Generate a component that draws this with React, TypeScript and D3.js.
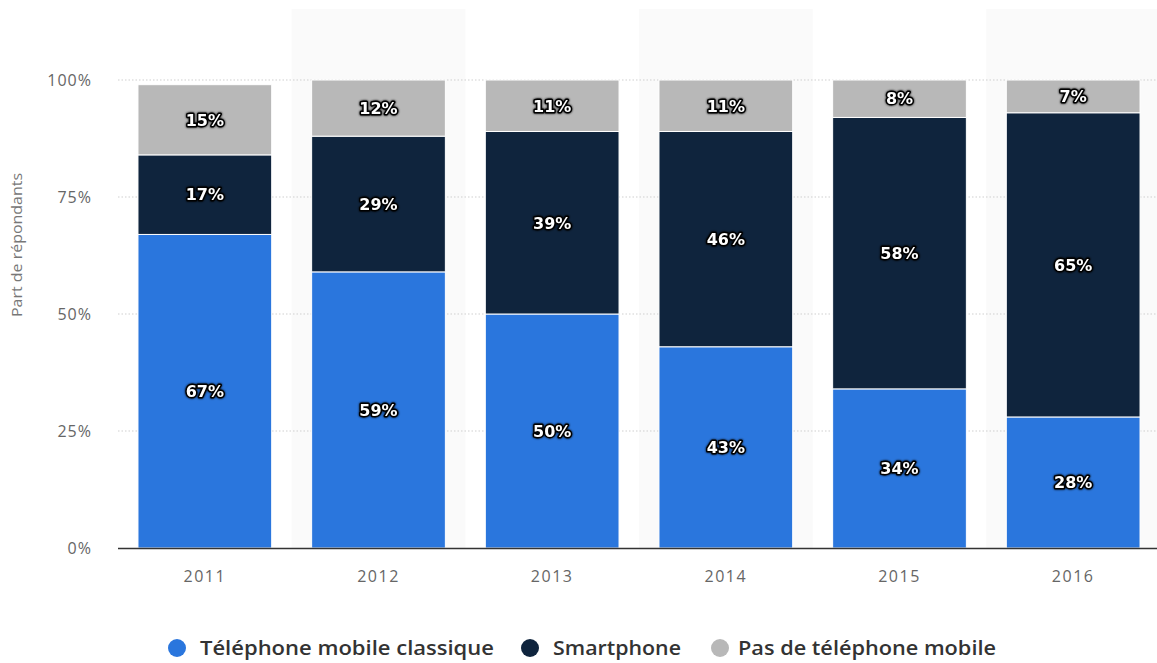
import React from "react";
import * as d3 from "d3";

const years = ["2011", "2012", "2013", "2014", "2015", "2016"];
const classique = [67, 59, 50, 43, 34, 28];
const smartphone = [17, 29, 39, 46, 58, 65];
const aucun = [15, 12, 11, 11, 8, 7];
const yTicks = [0, 25, 50, 75, 100];
const seriesNames = ["Téléphone mobile classique", "Smartphone", "Pas de téléphone mobile"];
const colors = ["#2a76dd", "#0f243d", "#b8b8b8"];

const W = 1157;
const H = 663;

export default function App() {
  const x = d3.scaleBand<string>().domain(years).range([118, 1160]).paddingInner(0.23).paddingOuter(0.115);
  const xOuter = d3.scaleBand<string>().domain(years).range([118, 1160]);
  const y = d3.scaleLinear().domain([0, 100]).range([548, 80]);
  const series = [classique, smartphone, aucun];
  const font = "'Open Sans', sans-serif";
  const labelFont = "'DejaVu Sans', sans-serif";

  return (
    <svg width={W} height={H} style={{ position: "absolute", left: 0, top: 0 }}>
      <defs>
        <filter id="sh" x="-30%" y="-50%" width="160%" height="200%">
          <feGaussianBlur in="SourceAlpha" stdDeviation="1" result="b" />
          <feFlood floodColor="#000" />
          <feComposite in2="b" operator="in" />
          <feMerge>
            <feMergeNode />
            <feMergeNode in="SourceGraphic" />
          </feMerge>
        </filter>
      </defs>
      <rect width={W} height={H} fill="#fff" />
      {years.map((yr, i) =>
        i % 2 === 1 ? (
          <rect key={"bg" + yr} x={xOuter(yr)!} y={9} width={xOuter.bandwidth()} height={548 - 9} fill="#fafafa" />
        ) : null
      )}
      {yTicks.filter((t) => t > 0).map((t) => (
        <line key={"g" + t} x1={118} x2={W} y1={y(t)} y2={y(t)} stroke="#cfcfcf" strokeDasharray="1.5,2" />
      ))}
      {years.map((yr, i) => {
        let acc = 0;
        return series.map((s, k) => {
          const v = s[i];
          const y0 = acc;
          acc += v;
          return (
            <rect
              key={yr + k}
              x={x(yr)!}
              y={y(acc)}
              width={x.bandwidth()}
              height={y(y0) - y(acc)}
              fill={colors[k]}
              stroke="#fff"
              strokeWidth={1}
            />
          );
        });
      })}
      {years.map((yr, i) => {
        let acc = 0;
        return series.map((s, k) => {
          const v = s[i];
          const mid = acc + v / 2;
          acc += v;
          return (
            <text
              key={"l" + yr + k}
              x={x(yr)! + x.bandwidth() / 2}
              y={y(mid)}
              dy="0.36em"
              textAnchor="middle"
              fontFamily={labelFont}
              fontWeight={700}
              fontSize={16}
              fill="#fff"
              stroke="#000"
              strokeWidth={3}
              strokeLinejoin="round"
              filter="url(#sh)"
              style={{ paintOrder: "stroke" }}
            >
              {v}%
            </text>
          );
        });
      })}
      <line x1={118} x2={W} y1={548.5} y2={548.5} stroke="#333" strokeWidth={1.5} />
      {yTicks.map((t) => (
        <text key={"yt" + t} x={92} y={y(t)} dy="0.35em" textAnchor="end" fontFamily={font} fontSize={16} letterSpacing={1} fill="#666">
          {t}%
        </text>
      ))}
      {years.map((yr) => (
        <text key={"xt" + yr} x={x(yr)! + x.bandwidth() / 2} y={582} textAnchor="middle" fontFamily={font} fontSize={16} letterSpacing={1.5} fill="#666">
          {yr}
        </text>
      ))}
      <text transform="translate(22,245) rotate(-90)" textAnchor="middle" fontFamily={font} fontSize={14} fill="#777" textLength={144} lengthAdjust="spacingAndGlyphs">
        Part de répondants
      </text>
      {(() => {
        const pos = [177, 530, 720];
        const textX = [200, 553, 738];
        const lens = [294, 128, 258];
        return seriesNames.map((n, k) => (
          <g key={"lg" + k}>
            <circle cx={pos[k]} cy={648} r={9} fill={colors[k]} />
            <text x={textX[k]} y={648} dy="0.36em" fontFamily={font} fontWeight={600} fontSize={19} fill="#333" textLength={lens[k]} lengthAdjust="spacingAndGlyphs">
              {n}
            </text>
          </g>
        ));
      })()}
    </svg>
  );
}
